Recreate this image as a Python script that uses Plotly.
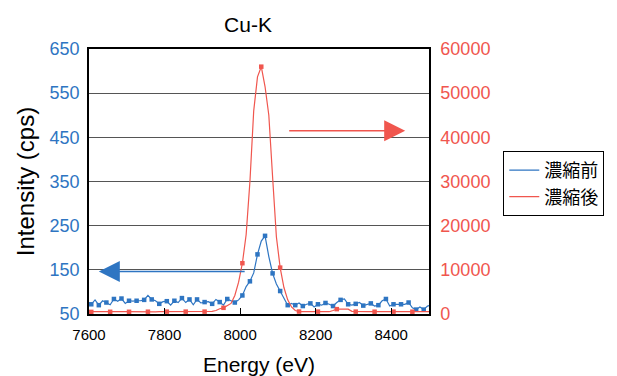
import numpy as np
import plotly.graph_objects as go

energy = np.arange(7596, 8507, 10)  # eV

before_cps = [
    78, 72, 82, 70, 80, 76, 71, 84, 79, 85,
    74, 80, 79, 80, 80, 82, 92, 83, 80, 73,
    78, 79, 70, 80, 76, 86, 76, 83, 71, 83,
    75, 77, 78, 73, 83, 77, 70, 84, 80, 76,
    82, 92, 112, 124, 143, 185, 215, 227, 180, 142,
    118, 102, 87, 70, 74, 70, 75, 68, 72, 74,
    66, 72, 70, 75, 72, 68, 76, 82, 84, 72,
    70, 73, 76, 69, 72, 74, 68, 70, 80, 84,
    68, 72, 72, 72, 72, 76, 64, 60, 66, 60,
    68, 70,
]

after_cps = [
    520, 480, 520, 500, 520, 540, 500, 520, 500, 520,
    520, 500, 520, 540, 520, 500, 520, 520, 500, 520,
    520, 540, 520, 500, 520, 520, 540, 520, 500, 520,
    520, 540, 520, 600, 800, 1200, 1400, 2000, 2400, 4200,
    7200, 11500, 18000, 30000, 46000, 53700, 56000, 51500, 45000, 31000,
    17500, 10500, 6000, 3200, 1600, 800, 560, 540, 520, 540,
    520, 540, 520, 540, 520, 800, 1100, 1100, 1100, 1100,
    600, 540, 520, 540, 520, 540, 520, 540, 520, 540,
    520, 540, 520, 540, 520, 540, 520, 540, 520, 540,
    520, 520,
]

series_names = ["濃縮前", "濃縮後"]
title_text = "Cu-K"

BLUE = "#2E75C2"
RED = "#F0564E"
FONT = "Liberation Sans, Arial, Noto Sans CJK JP, sans-serif"

fig = go.Figure()
# lines (legend entries)
fig.add_trace(go.Scatter(
    x=energy, y=before_cps, name=series_names[0], yaxis="y",
    mode="lines", line=dict(color=BLUE, width=1.2),
))
fig.add_trace(go.Scatter(
    x=energy, y=after_cps, name=series_names[1], yaxis="y2",
    mode="lines", line=dict(color=RED, width=1.2),
))
# sparse square markers on the same data
fig.add_trace(go.Scatter(
    x=energy, y=before_cps, yaxis="y", mode="markers", showlegend=False,
    marker=dict(symbol="square", size=4.5, color=BLUE, maxdisplayed=45),
    hoverinfo="skip",
))
fig.add_trace(go.Scatter(
    x=energy, y=after_cps, yaxis="y2", mode="markers", showlegend=False,
    marker=dict(symbol="square", size=4.5, color=RED, maxdisplayed=18),
    hoverinfo="skip",
))

fig.update_layout(
    width=617, height=376,
    margin=dict(l=88.5, r=187.5, t=49, b=62, autoexpand=False),
    paper_bgcolor="white", plot_bgcolor="white",
    font=dict(family=FONT, size=16, color="black"),
    title=dict(text=title_text, x=248 / 617, xanchor="center",
               y=1 - 25 / 376, yanchor="middle", font=dict(size=21)),
    xaxis=dict(
        range=[7600, 8500], tick0=7600, dtick=200, automargin=False,
        showline=True, linecolor="black", linewidth=1.5, mirror=True,
        ticks="inside", ticklen=6, tickcolor="black", showgrid=False,
        tickfont=dict(size=15, color="black"), ticklabelstandoff=6,
        title=dict(text="Energy (eV)", font=dict(size=21), standoff=17),
        zeroline=False,
    ),
    yaxis=dict(
        range=[50, 650], tick0=50, dtick=100, automargin=False,
        showline=True, linecolor="black", linewidth=1.5,
        showgrid=True, gridcolor="#555555", gridwidth=1,
        ticks="", tickfont=dict(size=18, color=BLUE), ticklabelstandoff=4,
        title=dict(text="Intensity (cps)", font=dict(size=24), standoff=8),
        zeroline=False,
    ),
    yaxis2=dict(
        range=[0, 60000], tick0=0, dtick=10000, overlaying="y", side="right",
        showline=True, linecolor="black", linewidth=1.5, tickformat="d",
        showgrid=False, ticks="", tickfont=dict(size=18, color=RED),
        ticklabelstandoff=6, zeroline=False, automargin=False,
    ),
    legend=dict(
        x=(504 - 88.5) / 341, y=(314 - 151) / 265, xanchor="left", yanchor="top",
        bordercolor="black", borderwidth=1, bgcolor="white",
        font=dict(size=18), tracegroupgap=0, itemwidth=30,
    ),
    showlegend=True,
)

fig.add_annotation(
    x=7626, y=146, ax=8016, ay=146, xref="x", yref="y", axref="x", ayref="y",
    text="", showarrow=True, arrowhead=2, arrowsize=2.8, arrowwidth=1.5,
    arrowcolor=BLUE, standoff=0,
)
fig.add_annotation(
    x=8437, y=41500, ax=8126, ay=41500, xref="x", yref="y2", axref="x", ayref="y2",
    text="", showarrow=True, arrowhead=2, arrowsize=2.8, arrowwidth=1.5,
    arrowcolor=RED, standoff=0,
)

fig.write_html("out.html")
